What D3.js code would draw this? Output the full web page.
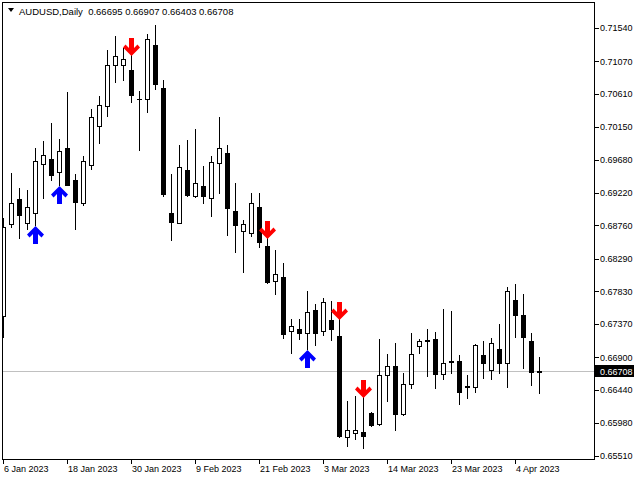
<!DOCTYPE html>
<html><head><meta charset="utf-8">
<script src="https://cdn.jsdelivr.net/npm/d3@7"></script>
<style>html,body{margin:0;padding:0;background:#fff;}svg{display:block;}</style>
</head><body>
<script>
const symbolTitle = "AUDUSD,Daily";
const lastOHLC = "0.66695 0.66907 0.66403 0.66708";
const open  = [0.67488,0.68775,0.69127,0.68789,0.68939,0.69620,0.69695,0.69508,0.69850,0.69399,0.69071,0.69606,0.70164,0.70446,0.71015,0.71015,0.70948,0.70540,0.70544,0.71301,0.70695,0.68939,0.68798,0.69536,0.69178,0.69315,0.69141,0.69634,0.69775,0.68963,0.68677,0.68649,0.69015,0.68470,0.67972,0.68033,0.67277,0.67301,0.67240,0.67568,0.67277,0.67427,0.67202,0.65775,0.65832,0.65850,0.66118,0.65958,0.66649,0.66779,0.66108,0.66522,0.67057,0.67146,0.67160,0.66671,0.66850,0.66850,0.66498,0.66479,0.66934,0.66719,0.67019,0.66818,0.67709,0.67498,0.67132,0.66695];
const high  = [0.68860,0.69494,0.69287,0.69258,0.69850,0.69949,0.70202,0.69977,0.70639,0.69484,0.69737,0.70399,0.70582,0.71230,0.71427,0.71258,0.71160,0.70653,0.71456,0.71582,0.70803,0.69484,0.69892,0.69963,0.70117,0.69596,0.69737,0.70291,0.69892,0.69353,0.68836,0.69212,0.69212,0.68582,0.68413,0.68226,0.67441,0.67446,0.67836,0.67653,0.67733,0.67699,0.67441,0.66287,0.66357,0.66347,0.66132,0.67156,0.66949,0.67103,0.66681,0.67249,0.67160,0.67296,0.67254,0.67582,0.67554,0.66934,0.66653,0.67089,0.67132,0.67170,0.67371,0.67896,0.67934,0.67794,0.67249,0.66907];
const low   = [0.67192,0.68741,0.68587,0.68709,0.68765,0.69150,0.69399,0.69329,0.69329,0.68709,0.69047,0.69558,0.69925,0.70305,0.70784,0.70808,0.70502,0.69826,0.70361,0.70681,0.69178,0.68554,0.68789,0.69178,0.69164,0.69079,0.68892,0.69212,0.68625,0.68389,0.68108,0.68615,0.68460,0.67944,0.67794,0.67170,0.66967,0.67156,0.67019,0.67075,0.67216,0.67146,0.65784,0.65657,0.65747,0.65620,0.65941,0.65949,0.66291,0.65882,0.66089,0.66465,0.66958,0.66639,0.66474,0.66601,0.66685,0.66240,0.66325,0.66409,0.66606,0.66601,0.66685,0.66488,0.67192,0.66756,0.66516,0.66403];
const close = [0.68741,0.69071,0.68910,0.69015,0.69663,0.69747,0.69474,0.69803,0.69333,0.69094,0.69663,0.70282,0.70451,0.71019,0.71141,0.71099,0.70601,0.70533,0.71381,0.70756,0.69202,0.68812,0.69582,0.69192,0.69353,0.69178,0.69649,0.69846,0.69009,0.68770,0.68775,0.69071,0.68530,0.67967,0.68071,0.67234,0.67339,0.67249,0.67536,0.67249,0.67677,0.67296,0.65794,0.65874,0.65874,0.65798,0.65953,0.66649,0.66775,0.66108,0.66522,0.66944,0.67132,0.67136,0.66663,0.66818,0.66829,0.66418,0.66477,0.67071,0.66826,0.67103,0.66826,0.67832,0.67502,0.67192,0.66699,0.66708];
const upArrowBars = [4, 7, 38];
const downArrowBars = [16, 33, 42, 45];
const priceTicks = [0.71540,0.71070,0.70610,0.70150,0.69680,0.69220,0.68760,0.68290,0.67830,0.67370,0.66900,0.66440,0.65980,0.65510];
const dateLabels = ["6 Jan 2023","18 Jan 2023","30 Jan 2023","9 Feb 2023","21 Feb 2023","3 Mar 2023","14 Mar 2023","23 Mar 2023","4 Apr 2023"];
const dateBars = [0,8,16,24,32,40,48,56,64];
const currentPrice = 0.66708;

const W = 640, H = 480;
const frame = {l: 2, t: 2, r: 594, b: 459};
const font = "'Liberation Sans', Arial, sans-serif";

const svg = d3.select("body").append("svg").attr("width", W).attr("height", H)
  .attr("shape-rendering", "crispEdges");

const x = d3.scaleLinear().domain([0, 67]).range([3.5, 539.5]);
const y = d3.scaleLinear().domain([0.65510, 0.71540]).range([456.13, 28]);

const bars = d3.range(open.length).map(i => ({i, o: open[i], h: high[i], l: low[i], c: close[i]}));

// clip
svg.append("clipPath").attr("id", "plot").append("rect")
  .attr("x", frame.l).attr("y", frame.t).attr("width", frame.r - frame.l).attr("height", frame.b - frame.t);
const g = svg.append("g").attr("clip-path", "url(#plot)");

// current price line
g.append("line").attr("x1", frame.l).attr("x2", frame.r)
  .attr("y1", Math.round(y(currentPrice)) + 0.5).attr("y2", Math.round(y(currentPrice)) + 0.5)
  .attr("stroke", "#c0c0c0").attr("stroke-width", 1);

// wicks
g.selectAll(".wick").data(bars).join("line").attr("class", "wick")
  .attr("x1", d => x(d.i)).attr("x2", d => x(d.i))
  .attr("y1", d => Math.round(y(d.h))).attr("y2", d => Math.round(y(d.l)) + 1)
  .attr("stroke", "#000").attr("stroke-width", 1);

// bear bodies
g.selectAll(".bear").data(bars.filter(d => d.c < d.o)).join("rect").attr("class", "bear")
  .attr("x", d => x(d.i) - 2.5).attr("width", 5)
  .attr("y", d => Math.round(y(d.o)))
  .attr("height", d => Math.max(1, Math.round(y(d.c)) - Math.round(y(d.o)) + 1))
  .attr("fill", "#000");

// bull bodies
g.selectAll(".bull").data(bars.filter(d => d.c >= d.o)).join("rect").attr("class", "bull")
  .attr("x", d => x(d.i) - 2).attr("width", 4)
  .attr("y", d => Math.round(y(d.c)) + 0.5)
  .attr("height", d => Math.max(0, Math.round(y(d.o)) - Math.round(y(d.c))))
  .attr("fill", "#fff").attr("stroke", "#000").attr("stroke-width", 1);

// arrows
function downArrow(cx, bottom) {
  const t = bottom - 18;
  return `M${cx-2.5},${t}L${cx+2.5},${t}L${cx+2.5},${t+10}L${cx+6},${t+6.5}L${cx+8.5},${t+9.5}L${cx},${t+18}L${cx-8.5},${t+9.5}L${cx-6},${t+6.5}L${cx-2.5},${t+10}Z`;
}
function upArrow(cx, top) {
  const b = top + 18;
  return `M${cx-2.5},${b}L${cx+2.5},${b}L${cx+2.5},${b-10}L${cx+6},${b-6.5}L${cx+8.5},${b-9.5}L${cx},${b-18}L${cx-8.5},${b-9.5}L${cx-6},${b-6.5}L${cx-2.5},${b-10}Z`;
}
g.selectAll(".dn").data(downArrowBars).join("path").attr("class", "dn")
  .attr("d", i => downArrow(x(i), Math.round(y(high[i])) + 1))
  .attr("fill", "#ff0000").attr("shape-rendering", "auto");
g.selectAll(".up").data(upArrowBars).join("path").attr("class", "up")
  .attr("d", i => upArrow(x(i), Math.round(y(low[i])) + 1))
  .attr("fill", "#0000ff").attr("shape-rendering", "auto");

// frame
svg.append("rect").attr("x", frame.l + 0.5).attr("y", frame.t + 0.5)
  .attr("width", frame.r - frame.l).attr("height", frame.b - frame.t)
  .attr("fill", "none").attr("stroke", "#000").attr("stroke-width", 1);

// price axis
const pa = svg.append("g");
pa.selectAll("line").data(priceTicks).join("line")
  .attr("x1", frame.r + 1).attr("x2", frame.r + 5)
  .attr("y1", d => Math.round(y(d)) + 0.5).attr("y2", d => Math.round(y(d)) + 0.5)
  .attr("stroke", "#000");
pa.selectAll("text").data(priceTicks).join("text")
  .attr("x", 600).attr("y", d => y(d) + 3.3)
  .attr("font-family", font).attr("font-size", 9).attr("fill", "#000")
  .text(d => d.toFixed(5));

// current price label
const cy = Math.round(y(currentPrice));
svg.append("rect").attr("x", frame.r + 1).attr("y", cy - 6).attr("width", 39).attr("height", 12).attr("fill", "#000");
svg.append("text").attr("x", 600).attr("y", cy + 3.5)
  .attr("font-family", font).attr("font-size", 9).attr("fill", "#fff").text(currentPrice.toFixed(5));

// time axis
const ta = svg.append("g");
ta.selectAll("line").data(dateBars).join("line")
  .attr("x1", i => x(i)).attr("x2", i => x(i))
  .attr("y1", frame.b + 1).attr("y2", frame.b + 5).attr("stroke", "#000");
ta.selectAll("text").data(dateBars).join("text")
  .attr("x", i => x(i) + 0.5).attr("y", 472)
  .attr("font-family", font).attr("font-size", 9).attr("fill", "#000")
  .text((i, k) => dateLabels[k]);

// header
svg.append("path").attr("d", "M8,8L14,8L11,12Z").attr("fill", "#000").attr("shape-rendering", "auto");
svg.append("text").attr("x", 19).attr("y", 14.5)
  .attr("font-family", font).attr("font-size", 9.5).attr("fill", "#000")
  .text(symbolTitle + "  " + lastOHLC).attr("xml:space", "preserve").style("white-space", "pre");
</script>
</body></html>
